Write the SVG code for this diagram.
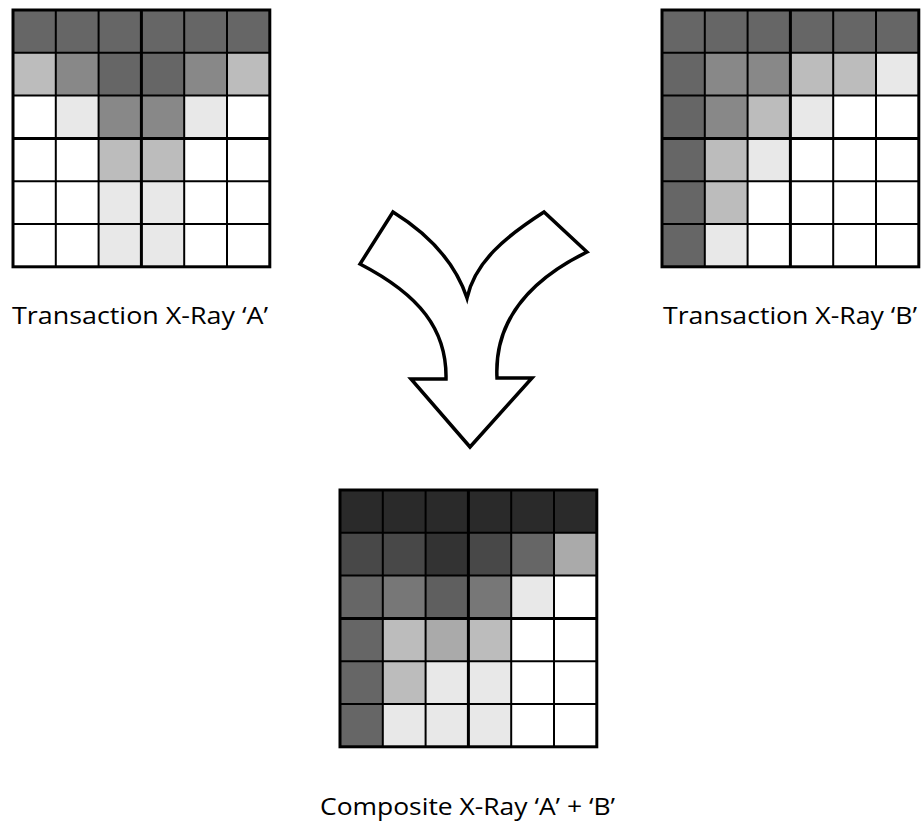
<svg xmlns="http://www.w3.org/2000/svg" width="921" height="821" viewBox="0 0 921 821">
<style>
.c0{fill:#2a2a2a}.c1{fill:#333}.c2{fill:#484848}.c3{fill:#5f5f5f}.c4{fill:#666}.c5{fill:#777}.c6{fill:#888}.c7{fill:#aaa}.c8{fill:#bcbcbc}.c9{fill:#e8e8e8}.cw{fill:#fff}
.lbl{font-family:"Open Sans","Liberation Sans",sans-serif;font-size:24.5px;fill:#000}
</style>
<defs>
<g id="lines" fill="none" stroke="#000" stroke-width="2">
<line x1="42.8" y1="0" x2="42.8" y2="256.8"/>
<line x1="85.6" y1="0" x2="85.6" y2="256.8"/>
<line stroke-width="3" x1="128.4" y1="0" x2="128.4" y2="256.8"/>
<line x1="171.2" y1="0" x2="171.2" y2="256.8"/>
<line x1="214" y1="0" x2="214" y2="256.8"/>
<line x1="0" y1="42.8" x2="256.8" y2="42.8"/>
<line x1="0" y1="85.6" x2="256.8" y2="85.6"/>
<line stroke-width="3" x1="0" y1="128.4" x2="256.8" y2="128.4"/>
<line x1="0" y1="171.2" x2="256.8" y2="171.2"/>
<line x1="0" y1="214" x2="256.8" y2="214"/>
<rect stroke-width="3" x="0" y="0" width="256.8" height="256.8"/>
</g>
</defs>
<g id="gridA" transform="translate(13,10)">
<rect class="cw" x="0" y="0" width="256.8" height="256.8"/>
<rect class="c4" x="0" y="0" width="256.8" height="42.8"/>
<rect class="c8" x="0" y="42.8" width="42.8" height="42.8"/>
<rect class="c6" x="42.8" y="42.8" width="42.8" height="42.8"/>
<rect class="c4" x="85.6" y="42.8" width="85.6" height="42.8"/>
<rect class="c6" x="171.2" y="42.8" width="42.8" height="42.8"/>
<rect class="c8" x="214" y="42.8" width="42.8" height="42.8"/>
<rect class="c9" x="42.8" y="85.6" width="42.8" height="42.8"/>
<rect class="c6" x="85.6" y="85.6" width="85.6" height="42.8"/>
<rect class="c9" x="171.2" y="85.6" width="42.8" height="42.8"/>
<rect class="c8" x="85.6" y="128.4" width="85.6" height="42.8"/>
<rect class="c9" x="85.6" y="171.2" width="85.6" height="85.6"/>
<use href="#lines"/>
</g>
<g id="gridB" transform="translate(662,10)">
<rect class="cw" x="0" y="0" width="256.8" height="256.8"/>
<rect class="c4" x="0" y="0" width="256.8" height="42.8"/>
<rect class="c4" x="0" y="42.8" width="42.8" height="214"/>
<rect class="c6" x="42.8" y="42.8" width="85.6" height="42.8"/>
<rect class="c8" x="128.4" y="42.8" width="85.6" height="42.8"/>
<rect class="c9" x="214" y="42.8" width="42.8" height="42.8"/>
<rect class="c6" x="42.8" y="85.6" width="42.8" height="42.8"/>
<rect class="c8" x="85.6" y="85.6" width="42.8" height="42.8"/>
<rect class="c9" x="128.4" y="85.6" width="42.8" height="42.8"/>
<rect class="c8" x="42.8" y="128.4" width="42.8" height="85.6"/>
<rect class="c9" x="85.6" y="128.4" width="42.8" height="42.8"/>
<rect class="c9" x="42.8" y="214" width="42.8" height="42.8"/>
<use href="#lines"/>
</g>
<g id="gridC" transform="translate(340,490)">
<rect class="cw" x="0" y="0" width="256.8" height="256.8"/>
<rect class="c0" x="0" y="0" width="256.8" height="42.8"/>
<rect class="c2" x="0" y="42.8" width="85.6" height="42.8"/>
<rect class="c1" x="85.6" y="42.8" width="42.8" height="42.8"/>
<rect class="c2" x="128.4" y="42.8" width="42.8" height="42.8"/>
<rect class="c4" x="171.2" y="42.8" width="42.8" height="42.8"/>
<rect class="c7" x="214" y="42.8" width="42.8" height="42.8"/>
<rect class="c4" x="0" y="85.6" width="42.8" height="171.2"/>
<rect class="c5" x="42.8" y="85.6" width="42.8" height="42.8"/>
<rect class="c3" x="85.6" y="85.6" width="42.8" height="42.8"/>
<rect class="c5" x="128.4" y="85.6" width="42.8" height="42.8"/>
<rect class="c9" x="171.2" y="85.6" width="42.8" height="42.8"/>
<rect class="c8" x="42.8" y="128.4" width="42.8" height="85.6"/>
<rect class="c7" x="85.6" y="128.4" width="42.8" height="42.8"/>
<rect class="c8" x="128.4" y="128.4" width="42.8" height="42.8"/>
<rect class="c9" x="85.6" y="171.2" width="85.6" height="42.8"/>
<rect class="c9" x="42.8" y="214" width="128.4" height="42.8"/>
<use href="#lines"/>
</g>
<g id="merge-arrow">
<path d="M393,212 L360,264 C420,295 447,330 446,379 L411,379 L470,447 L532,378 L497,378 C494,320 530,280 587,252 L544,212 C505,237 475,262 467,298 C455,262 430,235 393,212 Z" fill="#fff" stroke="#000" stroke-width="3.5" stroke-linejoin="miter"/>
</g>
<g id="labels">
<text class="lbl" x="12" y="324" textLength="256" lengthAdjust="spacingAndGlyphs">Transaction X-Ray ‘A’</text>
<text class="lbl" x="663" y="324" textLength="254" lengthAdjust="spacingAndGlyphs">Transaction X-Ray ‘B’</text>
<text class="lbl" x="320" y="815" textLength="295" lengthAdjust="spacingAndGlyphs">Composite X-Ray ‘A’ + ‘B’</text>
</g>
</svg>
